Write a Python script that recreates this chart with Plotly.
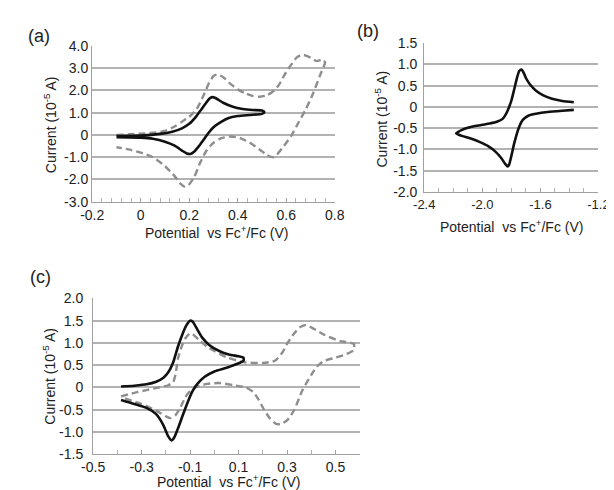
import plotly.graph_objects as go

# ---------------- data ----------------
# Panel (a)
a_solid_x = [-0.10, 0.00, 0.08, 0.13, 0.17, 0.20, 0.23, 0.25, 0.27, 0.285, 0.295, 0.31, 0.34, 0.38, 0.42, 0.46, 0.50, 0.51,
             0.50, 0.45, 0.40, 0.36, 0.33, 0.30, 0.28, 0.26, 0.24, 0.22, 0.205, 0.19, 0.17, 0.14, 0.10, 0.05, 0.00, -0.10]
a_solid_y = [-0.05, -0.03, 0.05, 0.15, 0.30, 0.50, 0.85, 1.15, 1.45, 1.65, 1.70, 1.65, 1.45, 1.27, 1.17, 1.12, 1.10, 1.03,
             0.95, 0.90, 0.85, 0.75, 0.58, 0.35, 0.10, -0.20, -0.50, -0.75, -0.85, -0.83, -0.70, -0.48, -0.30, -0.17, -0.12, -0.10]

a_dash_x = [-0.10, -0.05, 0.00, 0.05, 0.10, 0.14, 0.17, 0.20, 0.23, 0.26, 0.28, 0.30, 0.315, 0.34, 0.37, 0.40, 0.43, 0.46,
            0.49, 0.52, 0.55, 0.57, 0.59, 0.62, 0.645, 0.67, 0.70, 0.725, 0.745, 0.755,
            0.76, 0.74, 0.71, 0.68, 0.65, 0.62, 0.59, 0.56, 0.545, 0.52, 0.49, 0.45, 0.41, 0.37, 0.33, 0.30, 0.27,
            0.245, 0.22, 0.195, 0.18, 0.165, 0.14, 0.10, 0.05, 0.00, -0.05, -0.10]
a_dash_y = [0.00, 0.03, 0.06, 0.10, 0.18, 0.38, 0.60, 0.82, 1.15, 1.80, 2.30, 2.65, 2.72, 2.60, 2.30, 2.05, 1.88, 1.76,
            1.72, 1.78, 2.00, 2.25, 2.65, 3.15, 3.50, 3.60, 3.48, 3.32, 3.38, 3.35,
            3.25, 2.70, 1.85, 1.14, 0.55, -0.05, -0.50, -0.90, -1.00, -0.90, -0.65, -0.35, -0.14, -0.07, -0.15, -0.35, -0.72,
            -1.25, -1.90, -2.28, -2.32, -2.20, -1.85, -1.40, -1.00, -0.79, -0.65, -0.55]

# Panel (b)  (open at the right-hand end)
b_solid_x = [-1.37, -1.45, -1.52, -1.58, -1.63, -1.67, -1.70, -1.715, -1.73, -1.745, -1.76, -1.78, -1.80, -1.83,
             -1.86, -1.90, -1.95, -2.00, -2.05, -2.10, -2.14, -2.18,
             -2.14, -2.08, -2.02, -1.96, -1.91, -1.87, -1.84, -1.825, -1.815, -1.80, -1.78, -1.75, -1.72, -1.68,
             -1.63, -1.55, -1.45, -1.37]
b_solid_y = [0.11, 0.14, 0.19, 0.27, 0.38, 0.52, 0.68, 0.80, 0.88, 0.85, 0.70, 0.42, 0.15, -0.12,
             -0.28, -0.35, -0.39, -0.42, -0.45, -0.49, -0.54, -0.62,
             -0.68, -0.74, -0.82, -0.92, -1.05, -1.20, -1.35, -1.40, -1.35, -1.15, -0.85, -0.50, -0.30, -0.20,
             -0.16, -0.12, -0.09, -0.07]

# Panel (c)
c_solid_x = [-0.385, -0.33, -0.28, -0.24, -0.21, -0.19, -0.17, -0.15, -0.13, -0.115, -0.10, -0.09, -0.075, -0.05,
             -0.02, 0.02, 0.06, 0.10, 0.12,
             0.12, 0.06, 0.00, -0.04, -0.07, -0.09, -0.11, -0.13, -0.15, -0.165, -0.177, -0.19, -0.21, -0.24,
             -0.28, -0.33, -0.385]
c_solid_y = [0.02, 0.04, 0.07, 0.13, 0.22, 0.34, 0.56, 0.92, 1.22, 1.40, 1.50, 1.48, 1.35, 1.12,
             0.95, 0.82, 0.74, 0.70, 0.67,
             0.60, 0.46, 0.36, 0.24, 0.08, -0.08, -0.33, -0.62, -0.92, -1.12, -1.19, -1.10, -0.85, -0.60,
             -0.46, -0.37, -0.28]

c_dash_x = [-0.385, -0.33, -0.28, -0.23, -0.19, -0.17, -0.16, -0.15, -0.135, -0.12, -0.10, -0.085, -0.06, -0.03,
            0.00, 0.05, 0.12, 0.20, 0.25, 0.28, 0.30, 0.33, 0.355, 0.378, 0.41, 0.455, 0.52, 0.575,
            0.575, 0.54, 0.50, 0.45, 0.42, 0.40, 0.38, 0.36, 0.33, 0.30, 0.275, 0.255, 0.23, 0.205, 0.18, 0.16,
            0.13, 0.08, 0.02, -0.03, -0.07, -0.10, -0.12, -0.14, -0.16, -0.18, -0.20, -0.24, -0.30, -0.385]
c_dash_y = [-0.20, -0.12, -0.06, 0.00, 0.05, 0.12, 0.30, 0.65, 0.92, 1.10, 1.22, 1.18, 1.05, 0.92,
            0.82, 0.68, 0.57, 0.55, 0.60, 0.78, 0.98, 1.22, 1.36, 1.40, 1.32, 1.18, 1.04, 0.98,
            0.84, 0.74, 0.67, 0.59, 0.45, 0.28, 0.10, -0.10, -0.50, -0.74, -0.82, -0.82, -0.70, -0.50, -0.25, -0.10,
            0.00, 0.05, 0.10, 0.08, 0.02, -0.08, -0.22, -0.45, -0.62, -0.69, -0.65, -0.52, -0.37, -0.22]

# tick labels
a_xticks = [-0.2, 0.0, 0.2, 0.4, 0.6, 0.8]
a_xtext = ["-0.2", "0", "0.2", "0.4", "0.6", "0.8"]
a_yticks = [-3, -2, -1, 0, 1, 2, 3, 4]
a_ytext = ["-3.0", "-2.0", "-1.0", "0", "1.0", "2.0", "3.0", "4.0"]
b_xticks = [-2.4, -2.0, -1.6, -1.2]
b_xtext = ["-2.4", "-2.0", "-1.6", "-1.2"]
b_yticks = [-2.0, -1.5, -1.0, -0.5, 0, 0.5, 1.0, 1.5]
b_ytext = ["-2.0", "-1.5", "-1.0", "-0.5", "0", "0.5", "1.0", "1.5"]
c_xticks = [-0.5, -0.3, -0.1, 0.1, 0.3, 0.5]
c_xtext = ["-0.5", "-0.3", "-0.1", "0.1", "0.3", "0.5"]
c_yticks = [-1.5, -1.0, -0.5, 0, 0.5, 1.0, 1.5, 2.0]
c_ytext = ["-1.5", "-1.0", "-0.5", "0", "0.5", "1.0", "1.5", "2.0"]

xtitle = "Potential\u00a0 vs Fc<sup>+</sup>/Fc (V)"
ytitle = "Current (10<sup>-5</sup> A)"

# ---------------- figure ----------------
W, H = 614, 490
FONT = "Liberation Sans, Arial, sans-serif"
SOLID = dict(color="#111111", width=2.6, shape="spline", smoothing=0.6)
DASH = dict(color="#8e8e8e", width=2.4, dash="7px,4px", shape="spline", smoothing=0.6)

fig = go.Figure()
fig.add_trace(go.Scatter(x=a_dash_x, y=a_dash_y, mode="lines", line=DASH, xaxis="x", yaxis="y"))
fig.add_trace(go.Scatter(x=a_solid_x, y=a_solid_y, mode="lines", line=SOLID, xaxis="x", yaxis="y"))
fig.add_trace(go.Scatter(x=b_solid_x, y=b_solid_y, mode="lines", line=SOLID, xaxis="x2", yaxis="y2"))
fig.add_trace(go.Scatter(x=c_dash_x, y=c_dash_y, mode="lines", line=DASH, xaxis="x3", yaxis="y3"))
fig.add_trace(go.Scatter(x=c_solid_x, y=c_solid_y, mode="lines", line=SOLID, xaxis="x3", yaxis="y3"))


def px(x):
    return x / W


def py(y):
    return 1 - y / H


def xax(dom, rng, vals, text, minor_dt, anchor, fs):
    return dict(domain=dom, range=rng, tickmode="array", tickvals=vals, ticktext=text, anchor=anchor,
                showgrid=False, zeroline=False, showline=True, linecolor="#a0a0a0", linewidth=1.3,
                ticks="inside", ticklen=4, tickcolor="#a0a0a0", tickwidth=1,
                minor=dict(dtick=minor_dt, tick0=rng[0], ticks="inside", ticklen=4, tickcolor="#b0b0b0"),
                tickfont=dict(family=FONT, size=fs, color="#222222"), fixedrange=True)


def yax(dom, rng, vals, text, anchor, fs, standoff):
    return dict(domain=dom, range=rng, tickmode="array", tickvals=vals, ticktext=text, anchor=anchor,
                showgrid=True, gridcolor="#b2b2b2", gridwidth=2, zeroline=False,
                showline=True, linecolor="#a0a0a0", linewidth=1.3, ticklabelstandoff=standoff,
                tickfont=dict(family=FONT, size=fs, color="#222222"), fixedrange=True)


fig.update_layout(
    width=W, height=H, margin=dict(l=0, r=0, t=0, b=0),
    paper_bgcolor="white", plot_bgcolor="white", showlegend=False,
    xaxis=xax([px(75), px(327)], [-0.2, 0.8], a_xticks, a_xtext, 0.04, "y", 14),
    yaxis=yax([py(192), py(31)], [-3, 4], a_yticks, a_ytext, "x", 14, 0),
    xaxis2=xax([px(420), px(601)], [-2.4, -1.2], b_xticks, b_xtext, 0.1, "y2", 13),
    yaxis2=yax([py(182), py(28)], [-2.0, 1.5], b_yticks, b_ytext, "x2", 14, 3),
    xaxis3=xax([px(76), px(353)], [-0.5, 0.6], c_xticks, c_xtext, 0.1, "y3", 14),
    yaxis3=yax([py(453), py(292)], [-1.5, 2.0], c_yticks, c_ytext, "x3", 14, 6),
)

ann_font = dict(family=FONT, size=14, color="#222222")
lab_font = dict(family=FONT, size=18, color="#222222")
anns = [
    dict(text="(a)", x=px(20), y=py(21), font=lab_font),
    dict(text="(b)", x=px(362), y=py(15), font=lab_font),
    dict(text="(c)", x=px(21), y=py(270), font=lab_font),
    dict(text=xtitle, x=px(204), y=py(223), font=ann_font),
    dict(text=xtitle, x=px(511), y=py(217), font=ann_font),
    dict(text=xtitle, x=px(217), y=py(481), font=ann_font),
    dict(text=ytitle, x=px(32), y=py(112), font=ann_font, textangle=-90),
    dict(text=ytitle, x=px(375), y=py(106), font=ann_font, textangle=-90),
    dict(text=ytitle, x=px(30), y=py(372), font=ann_font, textangle=-90),
]
for a in anns:
    a.update(xref="paper", yref="paper", showarrow=False, xanchor="center", yanchor="middle")
fig.update_layout(annotations=anns)

fig.write_html("out.html")
